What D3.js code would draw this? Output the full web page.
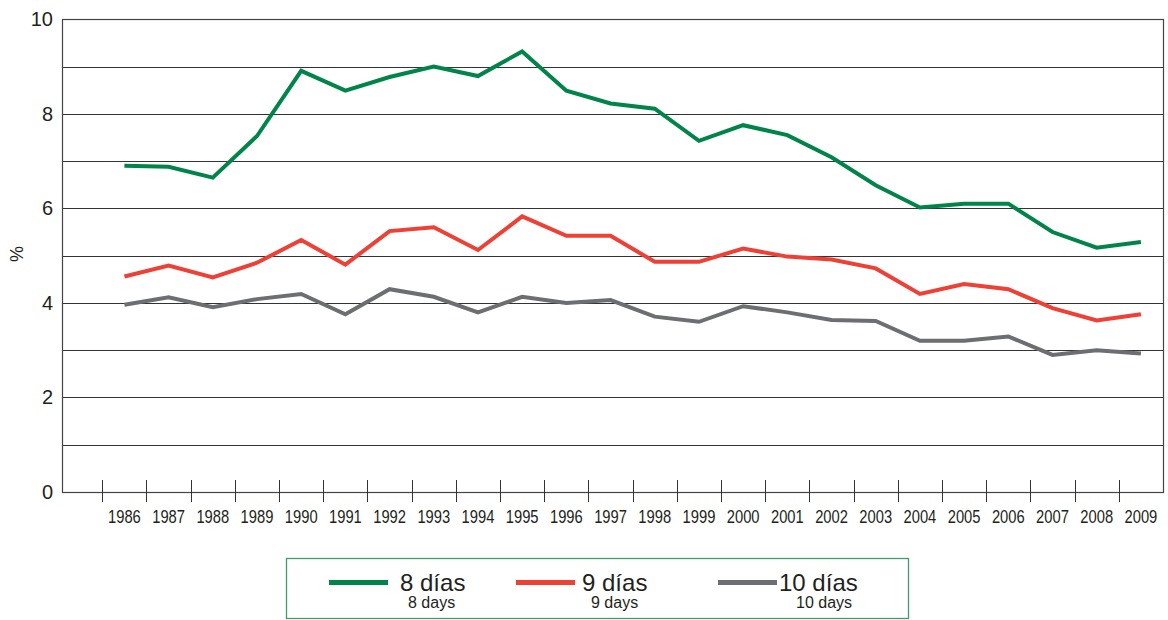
<html>
<head>
  <style>
    body {
      margin: 0px;
      padding: 0px;
      background-color: white;
    }

    svg {
      display: block;
    }

    .yLabel {
      font-family: "Liberation Sans", Arial, sans-serif;
      font-size: 20px;
      fill: #231f20;
    }

    .xLabel {
      font-family: "Liberation Sans", Arial, sans-serif;
      font-size: 18px;
      fill: #231f20;
    }
  </style>
</head>

<body>
  <div id="chart"></div>
  <script src="https://cdnjs.cloudflare.com/ajax/libs/d3/7.8.5/d3.min.js"></script>
  <script>
    // values (%)
    var years = ['1986', '1987', '1988', '1989', '1990', '1991', '1992', '1993', '1994', '1995', '1996', '1997',
      '1998', '1999', '2000', '2001', '2002', '2003', '2004', '2005', '2006', '2007', '2008', '2009'];
    var dias8 = [6.9, 6.88, 6.65, 7.53, 8.91, 8.49, 8.78, 9.0, 8.8, 9.32, 8.49, 8.22,
      8.11, 7.43, 7.76, 7.55, 7.08, 6.49, 6.02, 6.1, 6.1, 5.5, 5.17, 5.29];
    var dias9 = [4.56, 4.79, 4.54, 4.85, 5.33, 4.81, 5.52, 5.6, 5.12, 5.83, 5.42, 5.42,
      4.87, 4.87, 5.15, 4.98, 4.92, 4.73, 4.19, 4.4, 4.29, 3.89, 3.63, 3.76];
    var dias10 = [3.96, 4.12, 3.91, 4.08, 4.19, 3.76, 4.29, 4.13, 3.8, 4.13, 4.0, 4.06,
      3.71, 3.6, 3.93, 3.8, 3.64, 3.62, 3.2, 3.2, 3.29, 2.9, 3.0, 2.93];
    var yTicks = [0, 2, 4, 6, 8, 10];
    var seriesNames = ['8 días', '9 días', '10 días'];
    var seriesSub = ['8 days', '9 days', '10 days'];

    var colors = ['#00844a', '#ef4036', '#6d6e71'];
    var allSeries = [dias8, dias9, dias10];

    var width = 1168,
      height = 620,
      plotLeft = 62,
      plotRight = 1163,
      plotTop = 19.3,
      plotBottom = 492;

    var svg = d3.select('#chart').append('svg')
      .attr('width', width)
      .attr('height', height);

    var x = d3.scaleBand()
      .domain(years)
      .range([102.3, plotRight])
      .padding(0);

    var y = d3.scaleLinear()
      .domain([0, 10])
      .range([plotBottom, plotTop]);

    // horizontal grid, one line per unit
    svg.selectAll('line.grid')
      .data(d3.range(1, 10))
      .enter()
      .append('line')
      .attr('class', 'grid')
      .attr('x1', plotLeft)
      .attr('x2', plotRight)
      .attr('y1', function(d) { return Math.round(y(d)) + 0.5; })
      .attr('y2', function(d) { return Math.round(y(d)) + 0.5; })
      .attr('stroke', '#333')
      .attr('stroke-width', 1);

    // frame
    svg.append('rect')
      .attr('x', plotLeft + 0.5)
      .attr('y', Math.round(plotTop) + 0.5)
      .attr('width', plotRight - plotLeft)
      .attr('height', Math.round(plotBottom) - Math.round(plotTop))
      .attr('fill', 'none')
      .attr('stroke', '#444')
      .attr('stroke-width', 1.2);

    // y labels
    svg.selectAll('text.yLabel')
      .data(yTicks)
      .enter()
      .append('text')
      .attr('class', 'yLabel')
      .attr('x', 53)
      .attr('y', function(d) { return y(d); })
      .attr('dy', '0.35em')
      .attr('text-anchor', 'end')
      .text(function(d) { return d; });

    svg.append('text')
      .attr('class', 'yLabel')
      .attr('transform', 'translate(23,254) rotate(-90)')
      .attr('text-anchor', 'middle')
      .style('font-size', '18px')
      .text('%');

    // x ticks crossing the axis, between years
    svg.selectAll('line.xTick')
      .data(years)
      .enter()
      .append('line')
      .attr('class', 'xTick')
      .attr('x1', function(d) { return Math.round(x(d)) + 0.5; })
      .attr('x2', function(d) { return Math.round(x(d)) + 0.5; })
      .attr('y1', 480)
      .attr('y2', 502)
      .attr('stroke', '#333')
      .attr('stroke-width', 1);

    // condensed year labels
    svg.selectAll('text.xLabel')
      .data(years)
      .enter()
      .append('text')
      .attr('class', 'xLabel')
      .attr('transform', function(d) {
        return 'translate(' + (x(d) + x.bandwidth() / 2) + ',523) scale(0.82,1)';
      })
      .attr('text-anchor', 'middle')
      .text(function(d) { return d; });

    // lines
    var line = d3.line()
      .x(function(d, i) { return x(years[i]) + x.bandwidth() / 2; })
      .y(function(d) { return y(d); });

    svg.selectAll('path.series')
      .data(allSeries)
      .enter()
      .append('path')
      .attr('class', 'series')
      .attr('d', line)
      .attr('fill', 'none')
      .attr('stroke', function(d, i) { return colors[i]; })
      .attr('stroke-width', 4)
      .attr('stroke-linejoin', 'miter');

    // legend
    svg.append('rect')
      .attr('x', 286.5)
      .attr('y', 558.5)
      .attr('width', 622)
      .attr('height', 60)
      .attr('fill', 'white')
      .attr('stroke', '#3f9d6c')
      .attr('stroke-width', 1.3);

    var lineX = [329, 516, 718],
      textX = [400, 582, 779],
      subX = [408, 591, 796];

    var legend = svg.selectAll('g.legend')
      .data(seriesNames)
      .enter()
      .append('g')
      .attr('class', 'legend');

    legend.append('line')
      .attr('x1', function(d, i) { return lineX[i]; })
      .attr('x2', function(d, i) { return lineX[i] + 59; })
      .attr('y1', 582.5)
      .attr('y2', 582.5)
      .attr('stroke', function(d, i) { return colors[i]; })
      .attr('stroke-width', 5);

    legend.append('text')
      .attr('x', function(d, i) { return textX[i]; })
      .attr('y', 591)
      .style('font-family', '"Liberation Sans", Arial, sans-serif')
      .style('font-size', '24px')
      .style('fill', '#231f20')
      .text(function(d) { return d; });

    legend.append('text')
      .attr('x', function(d, i) { return subX[i]; })
      .attr('y', 608)
      .style('font-family', '"Liberation Sans", Arial, sans-serif')
      .style('font-size', '16px')
      .style('fill', '#231f20')
      .text(function(d, i) { return seriesSub[i]; });
  </script>
</body>

</html>
